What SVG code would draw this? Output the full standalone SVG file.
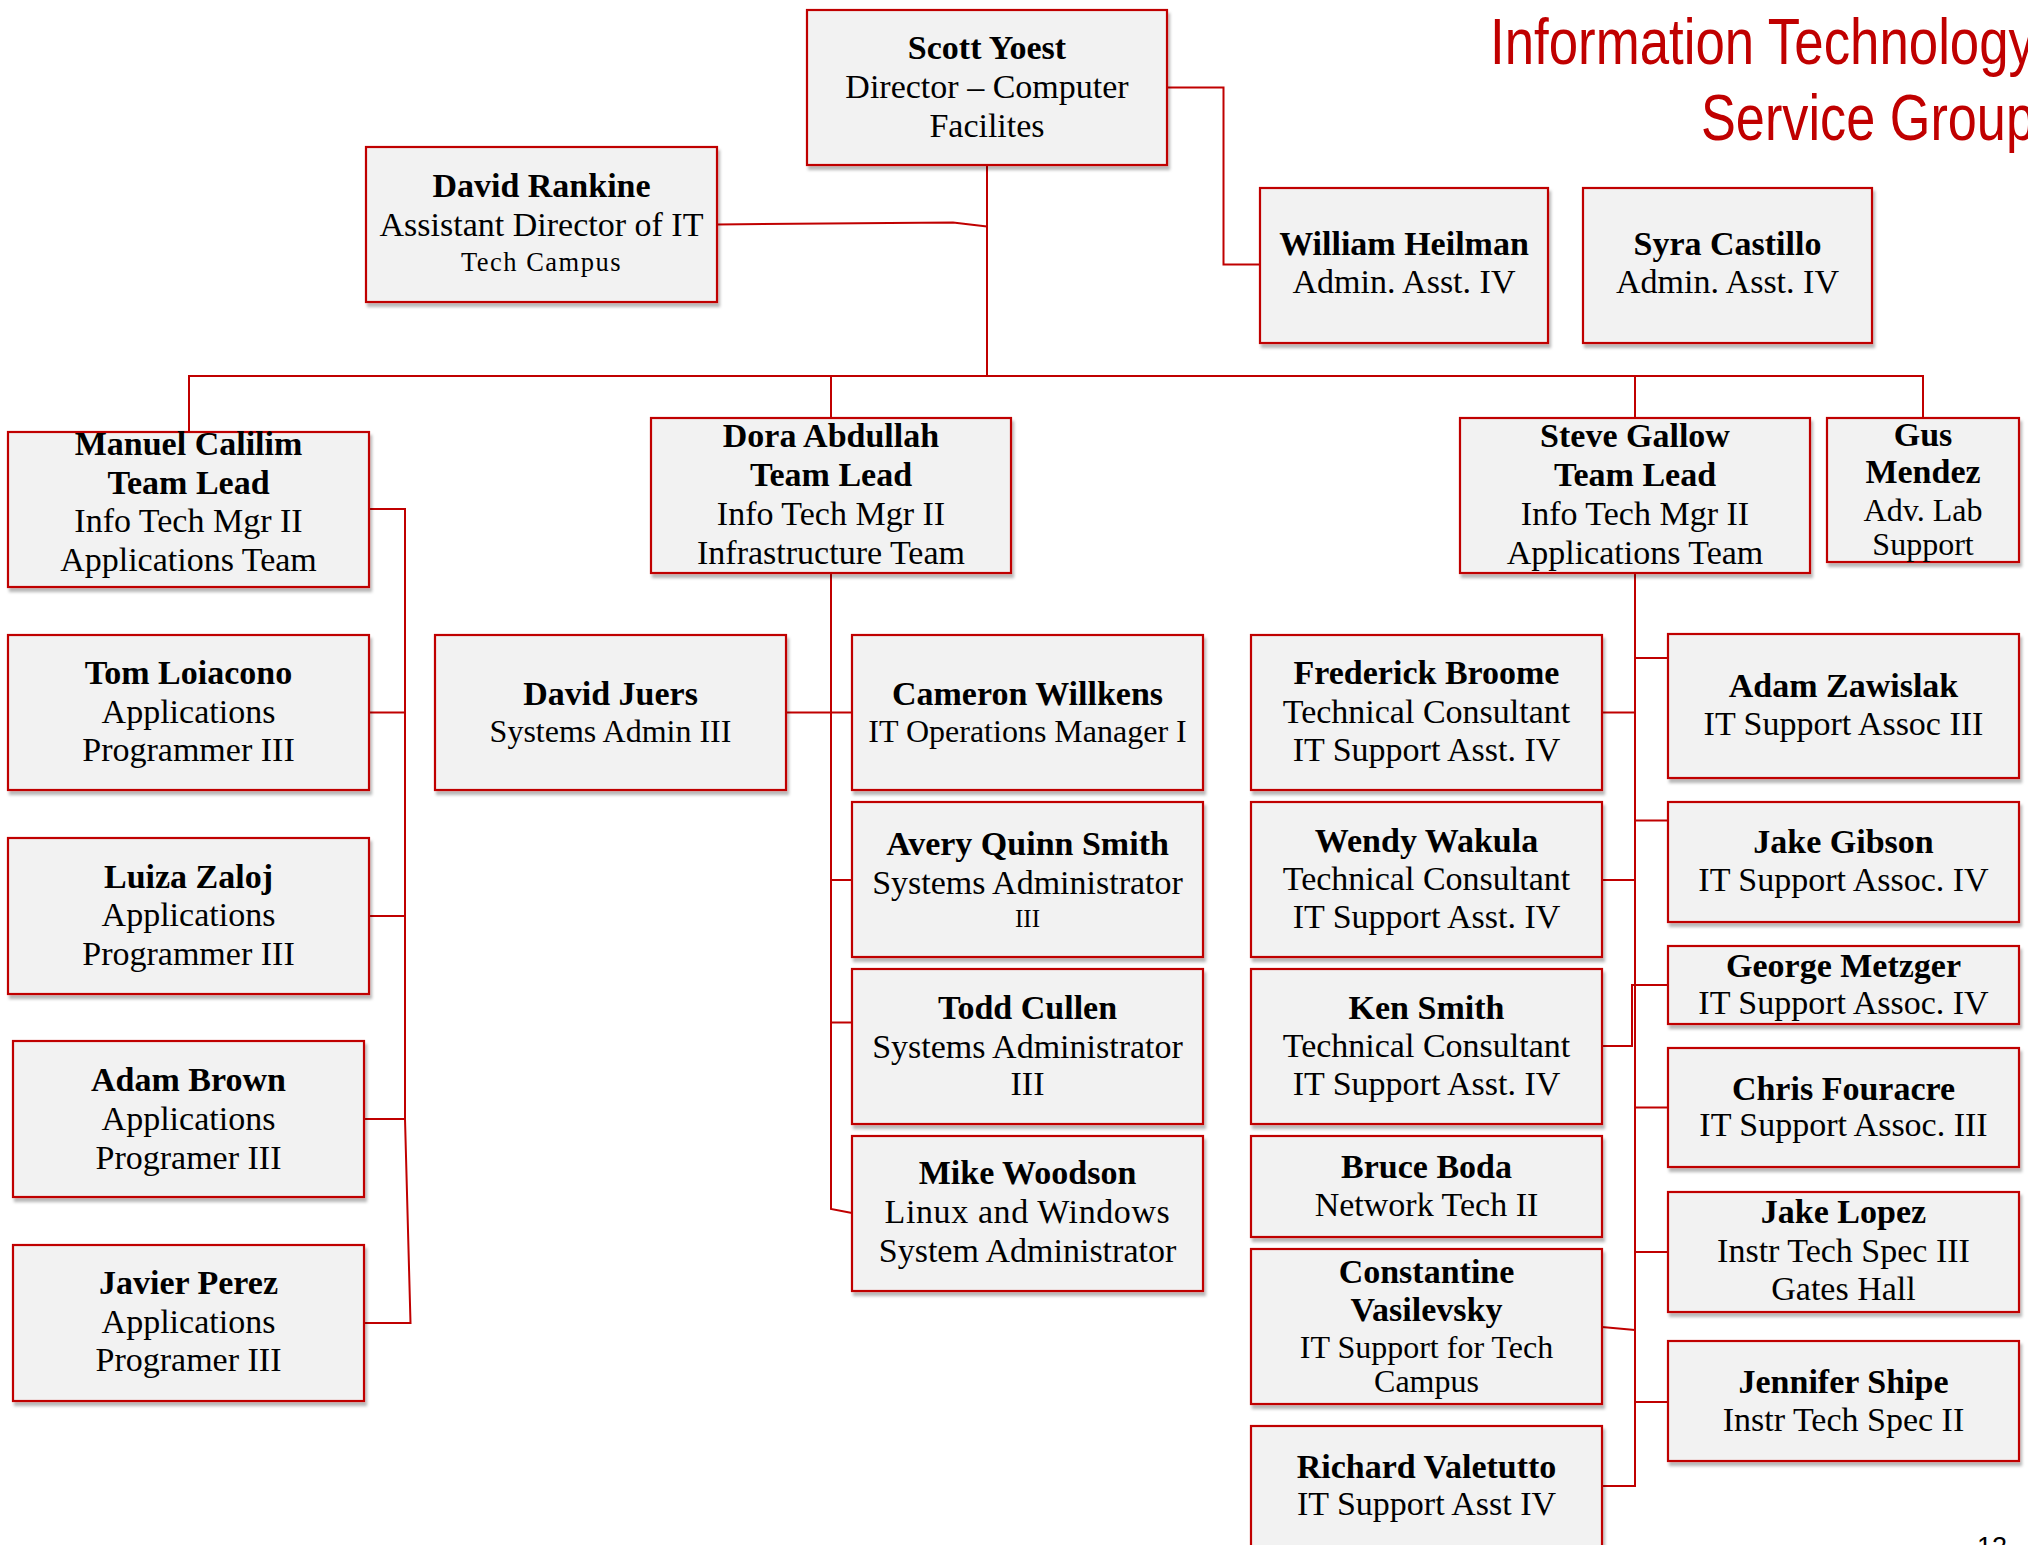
<svg xmlns="http://www.w3.org/2000/svg" width="2028" height="1545" viewBox="0 0 2028 1545">
<defs>
<filter id="sh" x="-5%" y="-5%" width="115%" height="120%">
<feDropShadow dx="2" dy="4" stdDeviation="1.5" flood-color="#000" flood-opacity="0.28"/>
</filter>
<style>
.box{fill:#f2f2f2;stroke:#c00000;stroke-width:2.2;filter:url(#sh);}
.n{font-family:"Liberation Serif",serif;font-weight:bold;font-size:34px;text-anchor:middle;fill:#000;}
.t{font-family:"Liberation Serif",serif;font-size:34px;text-anchor:middle;fill:#000;}
.s32{font-size:32px;}
.sm{font-size:26.5px;letter-spacing:1.5px;}
.s25{font-size:25px;}
.conn{fill:none;stroke:#c00000;stroke-width:2;}
.title{font-family:"Liberation Sans",Arial,sans-serif;font-size:65px;fill:#c00000;}
</style>
</defs>
<rect width="2028" height="1545" fill="#ffffff"/>

<g id="connectors">
<path class="conn" d="M987,165 V376"/>
<path class="conn" d="M717,224.5 L953,222.5 L987,226.5"/>
<path class="conn" d="M1167,87.5 H1223.5 V264.5 H1260"/>
<path class="conn" d="M189,432 V376 H1923 V418 M831,376 V418 M1635,376 V418"/>
<path class="conn" d="M369,509 H405 V1119 L410.5,1323 H364 M369,712.5 H405 M369,916 H405 M364,1119 H405"/>
<path class="conn" d="M831,573 V1209 L852,1213 M786,712.5 H852 M831,880 H852 M831,1022.5 H852"/>
<path class="conn" d="M1635,573 V1486 H1602 M1635,658 H1668 M1635,820.5 H1668 M1635,1107.5 H1668 M1635,1252 H1668 M1635,1402 H1668 M1602,712.5 H1635 M1602,880 H1635 M1602,1327 L1635,1330 M1602,1046 H1632 V985 H1668"/>
</g>

<g id="title">
<text class="title" x="1490" y="63.5" textLength="545" lengthAdjust="spacingAndGlyphs">Information Technology</text>
<text class="title" x="1701" y="140" textLength="334" lengthAdjust="spacingAndGlyphs">Service Group</text>
</g>

<g id="scott-yoest">
<rect class="box" x="807" y="10" width="360" height="155"/>
<text class="n" x="987" y="59">Scott Yoest</text>
<text class="t" x="987" y="98">Director – Computer</text>
<text class="t" x="987" y="136.5">Facilites</text>
</g>

<g id="david-rankine">
<rect class="box" x="366" y="147" width="351" height="155"/>
<text class="n" x="541.5" y="197">David Rankine</text>
<text class="t" x="541.5" y="236">Assistant Director of IT</text>
<text class="t sm" x="541.5" y="271">Tech Campus</text>
</g>

<g id="william-heilman">
<rect class="box" x="1260" y="188" width="288" height="155"/>
<text class="n" x="1404" y="254.5">William Heilman</text>
<text class="t" x="1404" y="293">Admin. Asst. IV</text>
</g>

<g id="syra-castillo">
<rect class="box" x="1583" y="188" width="289" height="155"/>
<text class="n" x="1727.5" y="254.5">Syra Castillo</text>
<text class="t" x="1727.5" y="293">Admin. Asst. IV</text>
</g>

<g id="manuel-calilim">
<rect class="box" x="8" y="432" width="361" height="155"/>
<text class="n" x="188.5" y="454.5">Manuel Calilim</text>
<text class="n" x="188.5" y="493.5">Team Lead</text>
<text class="t" x="188.5" y="532">Info Tech Mgr II</text>
<text class="t" x="188.5" y="571">Applications Team</text>
</g>

<g id="dora-abdullah">
<rect class="box" x="651" y="418" width="360" height="155"/>
<text class="n" x="831" y="447">Dora Abdullah</text>
<text class="n" x="831" y="486">Team Lead</text>
<text class="t" x="831" y="524.5">Info Tech Mgr II</text>
<text class="t" x="831" y="563.5">Infrastructure Team</text>
</g>

<g id="steve-gallow">
<rect class="box" x="1460" y="418" width="350" height="155"/>
<text class="n" x="1635" y="447">Steve Gallow</text>
<text class="n" x="1635" y="486">Team Lead</text>
<text class="t" x="1635" y="524.5">Info Tech Mgr II</text>
<text class="t" x="1635" y="563.5">Applications Team</text>
</g>

<g id="gus-mendez">
<rect class="box" x="1827" y="418" width="192" height="144"/>
<text class="n" x="1923" y="446">Gus</text>
<text class="n" x="1923" y="483">Mendez</text>
<text class="t s32" x="1923" y="520.5">Adv. Lab</text>
<text class="t s32" x="1923" y="555">Support</text>
</g>

<g id="tom-loiacono">
<rect class="box" x="8" y="635" width="361" height="155"/>
<text class="n" x="188.5" y="684">Tom Loiacono</text>
<text class="t" x="188.5" y="722.5">Applications</text>
<text class="t" x="188.5" y="761">Programmer III</text>
</g>

<g id="luiza-zaloj">
<rect class="box" x="8" y="838" width="361" height="156"/>
<text class="n" x="188.5" y="888">Luiza Zaloj</text>
<text class="t" x="188.5" y="926">Applications</text>
<text class="t" x="188.5" y="964.5">Programmer III</text>
</g>

<g id="adam-brown">
<rect class="box" x="13" y="1041" width="351" height="156"/>
<text class="n" x="188.5" y="1091">Adam Brown</text>
<text class="t" x="188.5" y="1129.5">Applications</text>
<text class="t" x="188.5" y="1168.5">Programer III</text>
</g>

<g id="javier-perez">
<rect class="box" x="13" y="1245" width="351" height="156"/>
<text class="n" x="188.5" y="1294">Javier Perez</text>
<text class="t" x="188.5" y="1332.5">Applications</text>
<text class="t" x="188.5" y="1371">Programer III</text>
</g>

<g id="david-juers">
<rect class="box" x="435" y="635" width="351" height="155"/>
<text class="n" x="610.5" y="705">David Juers</text>
<text class="t s32" x="610.5" y="741.5">Systems Admin III</text>
</g>

<g id="cameron-willkens">
<rect class="box" x="852" y="635" width="351" height="155"/>
<text class="n" x="1027.5" y="705">Cameron Willkens</text>
<text class="t s32" x="1027.5" y="741.5">IT Operations Manager I</text>
</g>

<g id="avery-quinn-smith">
<rect class="box" x="852" y="802" width="351" height="155"/>
<text class="n" x="1027.5" y="854.5">Avery Quinn Smith</text>
<text class="t" x="1027.5" y="893.5">Systems Administrator</text>
<text class="t s25" x="1027.5" y="927">III</text>
</g>

<g id="todd-cullen">
<rect class="box" x="852" y="969" width="351" height="155"/>
<text class="n" x="1027.5" y="1019">Todd Cullen</text>
<text class="t" x="1027.5" y="1057.5">Systems Administrator</text>
<text class="t" x="1027.5" y="1095">III</text>
</g>

<g id="mike-woodson">
<rect class="box" x="852" y="1136" width="351" height="155"/>
<text class="n" x="1027.5" y="1184">Mike Woodson</text>
<text class="t" x="1027.5" y="1223" letter-spacing="0.6">Linux and Windows</text>
<text class="t" x="1027.5" y="1261.5">System Administrator</text>
</g>

<g id="frederick-broome">
<rect class="box" x="1251" y="635" width="351" height="155"/>
<text class="n" x="1426.5" y="684">Frederick Broome</text>
<text class="t" x="1426.5" y="722.5">Technical Consultant</text>
<text class="t" x="1426.5" y="761">IT Support Asst. IV</text>
</g>

<g id="wendy-wakula">
<rect class="box" x="1251" y="802" width="351" height="155"/>
<text class="n" x="1426.5" y="851.5">Wendy Wakula</text>
<text class="t" x="1426.5" y="890">Technical Consultant</text>
<text class="t" x="1426.5" y="928">IT Support Asst. IV</text>
</g>

<g id="ken-smith">
<rect class="box" x="1251" y="969" width="351" height="155"/>
<text class="n" x="1426.5" y="1018.5">Ken Smith</text>
<text class="t" x="1426.5" y="1056.5">Technical Consultant</text>
<text class="t" x="1426.5" y="1095">IT Support Asst. IV</text>
</g>

<g id="bruce-boda">
<rect class="box" x="1251" y="1136" width="351" height="101"/>
<text class="n" x="1426.5" y="1178">Bruce Boda</text>
<text class="t" x="1426.5" y="1216">Network Tech II</text>
</g>

<g id="constantine-vasilevsky">
<rect class="box" x="1251" y="1249" width="351" height="155"/>
<text class="n" x="1426.5" y="1283">Constantine</text>
<text class="n" x="1426.5" y="1321">Vasilevsky</text>
<text class="t s32" x="1426.5" y="1357.5">IT Support for Tech</text>
<text class="t s32" x="1426.5" y="1391.5">Campus</text>
</g>

<g id="richard-valetutto">
<rect class="box" x="1251" y="1426" width="351" height="155"/>
<text class="n" x="1426.5" y="1477.5">Richard Valetutto</text>
<text class="t" x="1426.5" y="1515">IT Support Asst IV</text>
</g>

<g id="adam-zawislak">
<rect class="box" x="1668" y="634" width="351" height="144"/>
<text class="n" x="1843.5" y="696.5">Adam Zawislak</text>
<text class="t" x="1843.5" y="735">IT Support Assoc III</text>
</g>

<g id="jake-gibson">
<rect class="box" x="1668" y="802" width="351" height="120"/>
<text class="n" x="1843.5" y="852.5">Jake Gibson</text>
<text class="t" x="1843.5" y="891">IT Support Assoc. IV</text>
</g>

<g id="george-metzger">
<rect class="box" x="1668" y="946" width="351" height="78"/>
<text class="n" x="1843.5" y="977">George Metzger</text>
<text class="t" x="1843.5" y="1014">IT Support Assoc. IV</text>
</g>

<g id="chris-fouracre">
<rect class="box" x="1668" y="1048" width="351" height="119"/>
<text class="n" x="1843.5" y="1099.5">Chris Fouracre</text>
<text class="t" x="1843.5" y="1136">IT Support Assoc. III</text>
</g>

<g id="jake-lopez">
<rect class="box" x="1668" y="1192" width="351" height="120"/>
<text class="n" x="1843.5" y="1222.5">Jake Lopez</text>
<text class="t" x="1843.5" y="1262">Instr Tech Spec III</text>
<text class="t" x="1843.5" y="1300">Gates Hall</text>
</g>

<g id="jennifer-shipe">
<rect class="box" x="1668" y="1341" width="351" height="120"/>
<text class="n" x="1843.5" y="1392.5">Jennifer Shipe</text>
<text class="t" x="1843.5" y="1431">Instr Tech Spec II</text>
</g>

<g id="page-number">
<text x="1977" y="1556" font-family="Liberation Sans, Arial, sans-serif" font-size="27" fill="#000">12</text>
</g>
</svg>
